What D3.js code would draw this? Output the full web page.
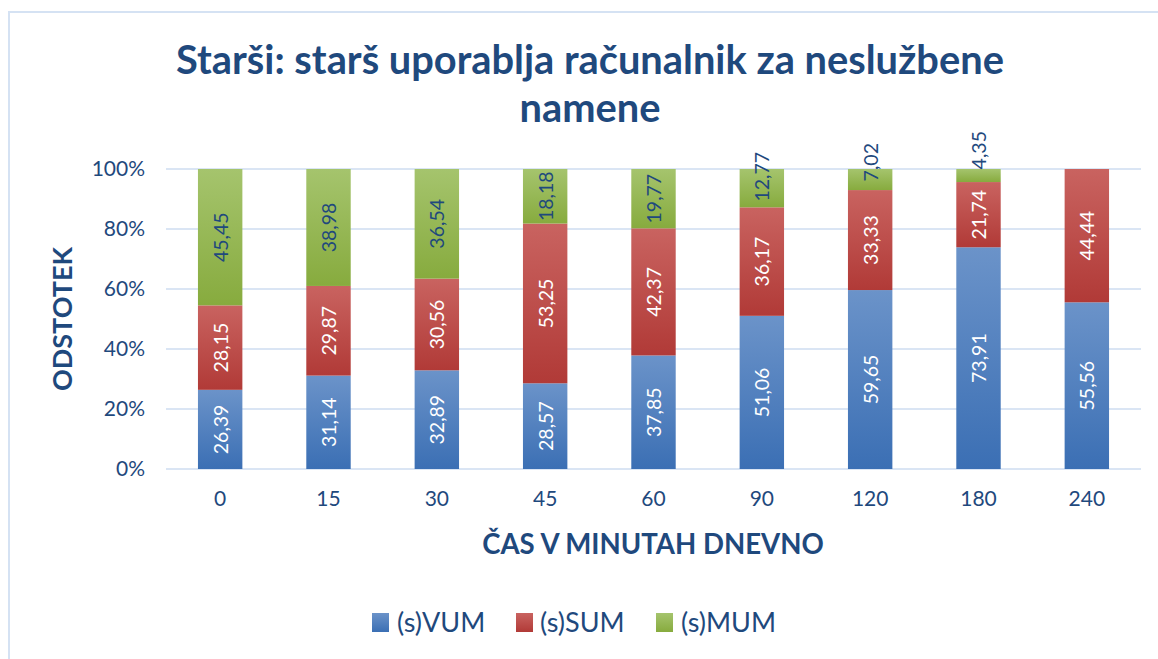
<!DOCTYPE html>
<html>
<head>
<meta charset="utf-8">
<script src="https://cdn.jsdelivr.net/npm/d3@7"></script>
<style>
  html, body { margin: 0; padding: 0; background: #fff; }
  svg { display: block; }
  text { font-family: Lato, "Open Sans", sans-serif; }
</style>
</head>
<body>
<svg id="chart" width="1158" height="659"></svg>
<script>
// ---- data ----
const categories = ["0", "15", "30", "45", "60", "90", "120", "180", "240"];
const seriesNames = ["(s)VUM", "(s)SUM", "(s)MUM"];
const vum = [26.39, 31.14, 32.89, 28.57, 37.85, 51.06, 59.65, 73.91, 55.56];
const sum = [28.15, 29.87, 30.56, 53.25, 42.37, 36.17, 33.33, 21.74, 44.44];
const mum = [45.45, 38.98, 36.54, 18.18, 19.77, 12.77, 7.02, 4.35, 0];
const yTicks = [0, 0.2, 0.4, 0.6, 0.8, 1.0];
const titleLines = ["Starši: starš uporablja računalnik za neslužbene", "namene"];
const yTitle = "ODSTOTEK";
const xTitle = "ČAS V MINUTAH DNEVNO";

// ---- styles ----
const textColor = "#1f497d";
const gridColor = "#dae5f4";
const grads = [
  { id: "gBlue", top: "#6b93c9", bottom: "#3b6fb4" },
  { id: "gRed", top: "#c96360", bottom: "#b13a37" },
  { id: "gGreen", top: "#a5c46d", bottom: "#87ab3e" }
];
const labelColors = ["#ffffff", "#ffffff", textColor];

const svg = d3.select("#chart");
const defs = svg.append("defs");
grads.forEach(g => {
  const lg = defs.append("linearGradient").attr("id", g.id)
    .attr("x1", 0).attr("y1", 0).attr("x2", 0).attr("y2", 1);
  lg.append("stop").attr("offset", "0%").attr("stop-color", g.top);
  lg.append("stop").attr("offset", "100%").attr("stop-color", g.bottom);
});

// chart frame
svg.append("rect").attr("x", 9).attr("y", 12).attr("width", 1170).attr("height", 700)
  .attr("fill", "none").attr("stroke", "#d5e2f3").attr("stroke-width", 2);

// title
const title = svg.append("text").attr("text-anchor", "middle")
  .attr("fill", textColor).attr("font-weight", "bold").attr("font-size", 39.8);
titleLines.forEach((l, i) => {
  title.append("tspan").attr("x", 590).attr("y", 74 + i * 48).text(l);
});

// scales
const x = d3.scaleBand().domain(categories).range([166, 1141])
  .paddingInner(0.59).paddingOuter(0.295);
const y = d3.scaleLinear().domain([0, 1]).range([469, 169]);

// gridlines
svg.append("g").selectAll("line").data(yTicks).join("line")
  .attr("x1", 166).attr("x2", 1141)
  .attr("y1", d => y(d)).attr("y2", d => y(d))
  .attr("stroke", gridColor).attr("stroke-width", 2);

// y axis
const yAxis = svg.append("g").attr("transform", "translate(145,0)")
  .call(d3.axisLeft(y).tickValues(yTicks).tickFormat(d3.format(".0%")).tickSize(0).tickPadding(0));
yAxis.select(".domain").remove();
yAxis.selectAll("text").attr("fill", textColor).attr("font-size", 21)
  .attr("font-family", "Lato, 'Open Sans', sans-serif");

// x axis
const xAxis = svg.append("g").attr("transform", "translate(0,469)")
  .call(d3.axisBottom(x).tickSize(0).tickPadding(22));
xAxis.select(".domain").remove();
xAxis.selectAll("text").attr("fill", textColor).attr("font-size", 21)
  .attr("font-family", "Lato, 'Open Sans', sans-serif");

// axis titles
svg.append("text").attr("transform", "translate(72,319) rotate(-90)")
  .attr("text-anchor", "middle").attr("fill", textColor)
  .attr("font-weight", "bold").attr("font-size", 27).text(yTitle);
svg.append("text").attr("x", 653).attr("y", 554)
  .attr("text-anchor", "middle").attr("fill", textColor)
  .attr("font-weight", "bold").attr("font-size", 27.6).text(xTitle);

// stacked data
const rows = categories.map((c, i) => ({ cat: c, s0: vum[i], s1: sum[i], s2: mum[i] }));
const stack = d3.stack().keys(["s0", "s1", "s2"]).offset(d3.stackOffsetExpand);
const layers = stack(rows);

const locale = d3.formatLocale({ decimal: ",", thousands: ".", grouping: [3], currency: ["", "€"] });
const fmt = locale.format(".2f");

const gBars = svg.append("g");
layers.forEach((layer, si) => {
  gBars.append("g").selectAll("rect").data(layer).join("rect")
    .attr("x", d => x(d.data.cat))
    .attr("width", x.bandwidth())
    .attr("y", d => y(d[1]))
    .attr("height", d => Math.max(0, y(d[0]) - y(d[1])))
    .attr("fill", `url(#${grads[si].id})`);
});

// labels
const vals = [vum, sum, mum];
layers.forEach((layer, si) => {
  layer.forEach((d, ci) => {
    const v = vals[si][ci];
    if (!v) return;
    const top = y(d[1]), bot = y(d[0]);
    const h = bot - top;
    const cx = x(d.data.cat) + x.bandwidth() / 2;
    const t = svg.append("text")
      .attr("text-anchor", "middle").attr("dominant-baseline", "central")
      .attr("fill", labelColors[si]).attr("font-size", 19.5).text(fmt(v));
    const len = t.node().getComputedTextLength();
    let cy = (top + bot) / 2;
    if (len > h) cy -= (len - h) * 1.0;
    t.attr("transform", `translate(${cx},${cy}) rotate(-90)`);
  });
});

// legend
const legendItems = [
  { sx: 372, tx: 397 },
  { sx: 516, tx: 540 },
  { sx: 656, tx: 681 }
];
seriesNames.forEach((n, i) => {
  svg.append("rect").attr("x", legendItems[i].sx).attr("y", 613)
    .attr("width", 17).attr("height", 19).attr("fill", `url(#${grads[i].id})`);
  svg.append("text").attr("x", legendItems[i].tx).attr("y", 632)
    .attr("fill", textColor).attr("font-size", 27).text(n);
});
</script>
</body>
</html>
